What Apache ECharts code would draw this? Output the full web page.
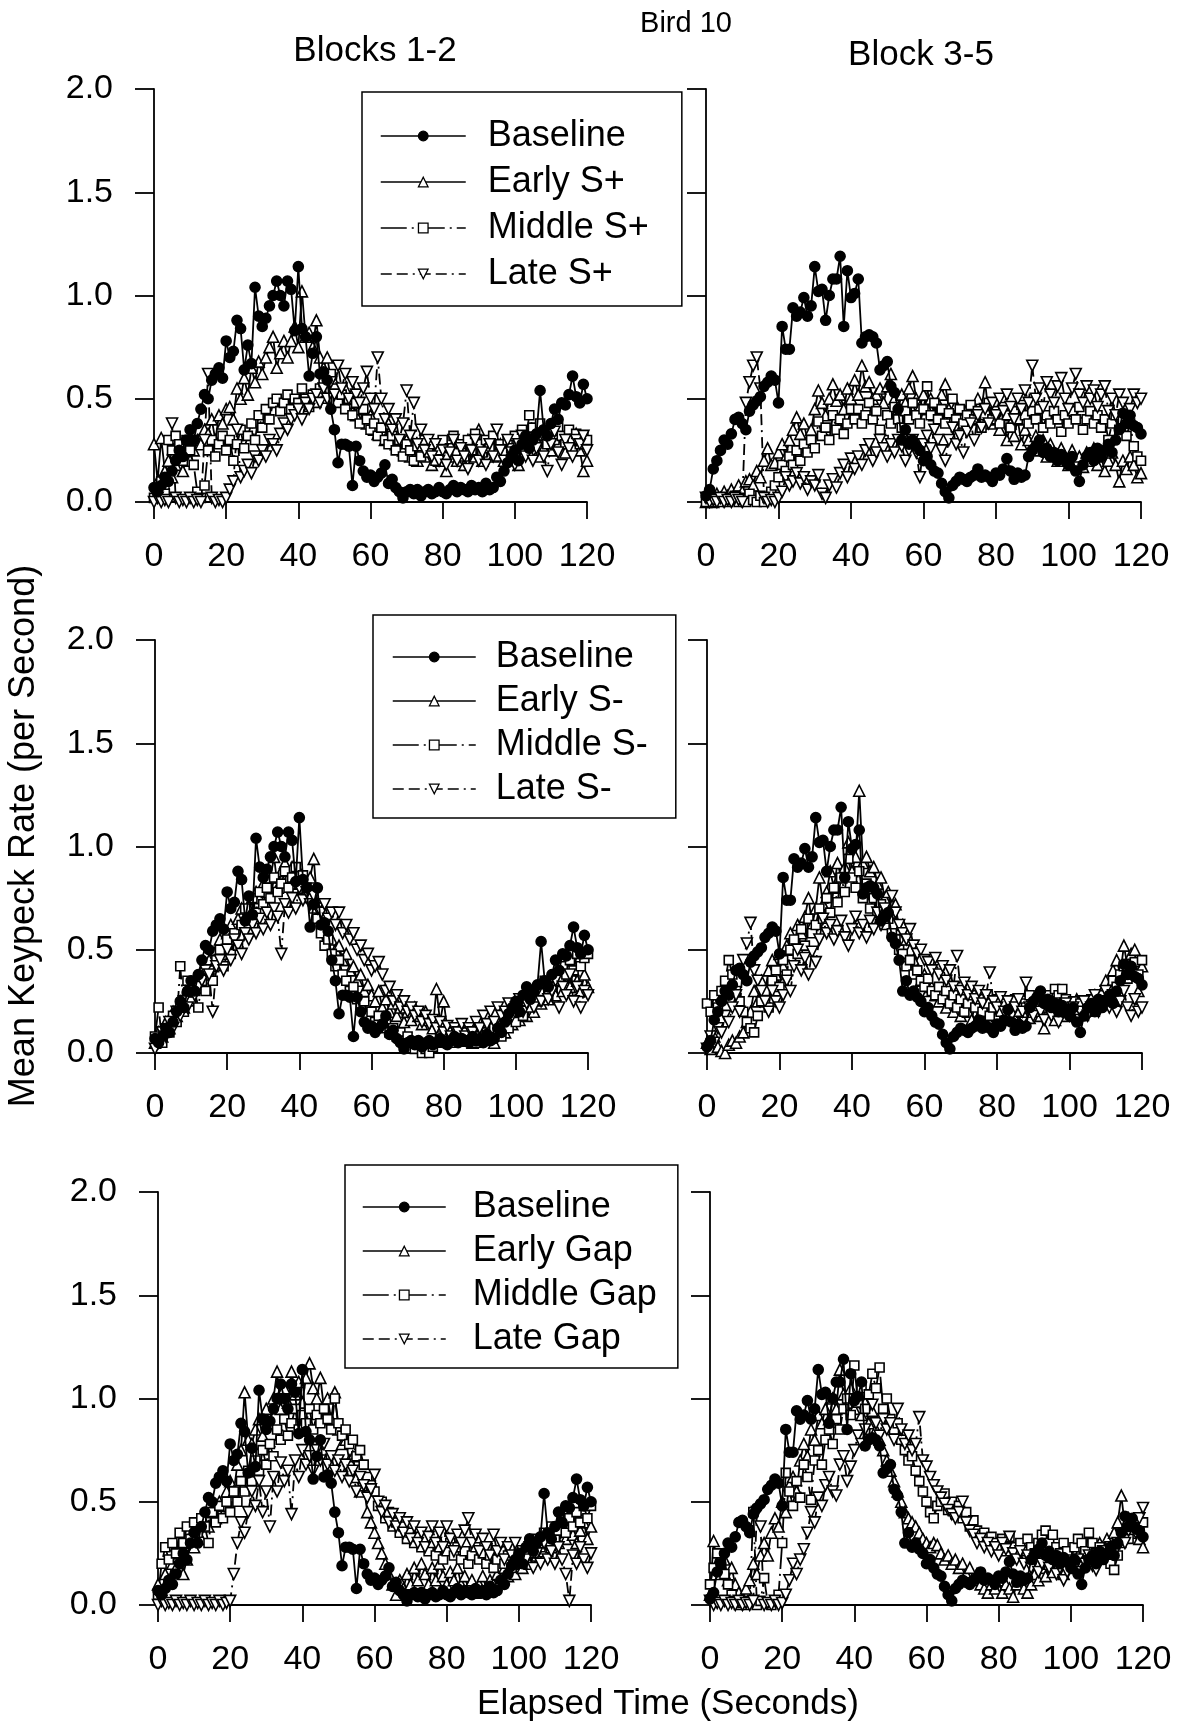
<!DOCTYPE html>
<html><head><meta charset="utf-8">
<script src="https://cdn.jsdelivr.net/npm/echarts@6/dist/echarts.min.js"></script>
<style>html,body{margin:0;padding:0;background:#fff}#c{width:1180px;height:1726px}</style>
</head><body><div id="c"></div>
<script>
// ---- time bins (seconds) ----
const seconds = [0,1,2,3,4,5,6,7,8,9,10,11,12,13,14,15,16,17,18,19,20,21,22,23,24,25,26,27,28,29,30,31,32,33,34,35,36,37,38,39,40,41,42,43,44,45,46,47,48,49,50,51,52,53,54,55,56,57,58,59,60,61,62,63,64,65,66,67,68,69,70,71,72,73,74,75,76,77,78,79,80,81,82,83,84,85,86,87,88,89,90,91,92,93,94,95,96,97,98,99,100,101,102,103,104,105,106,107,108,109,110,111,112,113,114,115,116,117,118,119,120];
const xTicks = [0,20,40,60,80,100,120];
const yTicks = ['0.0','0.5','1.0','1.5','2.0'];

// ---- Blocks 1-2 baseline (same in all left panels) ----
const baselineBlocks12 = [0.07,0.05,0.08,0.12,0.10,0.15,0.20,0.25,0.22,0.30,
0.35,0.30,0.38,0.45,0.52,0.50,0.59,0.62,0.65,0.60,
0.78,0.70,0.73,0.88,0.84,0.64,0.76,0.67,1.04,0.90,
0.85,0.89,0.95,1.00,1.07,1.00,0.95,1.07,1.03,0.83,
1.14,0.84,0.80,0.61,0.72,0.80,0.62,0.63,0.59,0.45,
0.35,0.19,0.28,0.28,0.27,0.08,0.27,0.20,0.15,0.12,
0.13,0.10,0.12,0.14,0.18,0.09,0.11,0.07,0.05,0.02,
0.05,0.06,0.04,0.06,0.03,0.05,0.06,0.04,0.05,0.07,
0.05,0.04,0.06,0.08,0.05,0.07,0.06,0.05,0.08,0.06,
0.07,0.05,0.09,0.06,0.07,0.12,0.10,0.15,0.19,0.22,
0.25,0.20,0.28,0.32,0.26,0.30,0.33,0.54,0.35,0.32,
0.38,0.45,0.40,0.48,0.47,0.52,0.61,0.51,0.48,0.57,
0.50];
// ---- Block 3-5 baseline (same in all right panels) ----
const baselineBlocks35 = [0.03,0.06,0.16,0.20,0.25,0.30,0.28,0.33,0.40,0.41,
0.38,0.35,0.44,0.47,0.49,0.51,0.56,0.58,0.61,0.59,
0.48,0.85,0.74,0.74,0.94,0.90,0.92,0.99,0.90,0.95,
1.14,1.02,1.03,0.88,1.00,1.08,1.08,1.19,0.85,1.12,
0.99,1.01,1.08,0.77,0.80,0.81,0.80,0.77,0.64,0.66,
0.68,0.56,0.53,0.45,0.30,0.35,0.28,0.30,0.27,0.25,
0.20,0.22,0.18,0.15,0.14,0.09,0.05,0.02,0.08,0.10,
0.12,0.11,0.10,0.12,0.13,0.16,0.12,0.13,0.12,0.10,
0.14,0.13,0.16,0.21,0.15,0.11,0.14,0.12,0.13,0.22,
0.25,0.27,0.30,0.24,0.26,0.22,0.24,0.20,0.23,0.21,
0.18,0.22,0.15,0.10,0.18,0.22,0.24,0.20,0.26,0.22,
0.25,0.28,0.24,0.30,0.35,0.43,0.38,0.42,0.37,0.36,
0.33];

// ---- S+ , Blocks 1-2 ----
const earlySPlus12 = [0.28,0.10,0.31,0.15,0.20,0.12,0.18,0.25,0.15,0.22,
0.20,0.25,0.30,0.28,0.35,0.33,0.40,0.30,0.42,0.38,
0.45,0.46,0.40,0.55,0.50,0.60,0.52,0.65,0.58,0.68,
0.62,0.70,0.75,0.80,0.65,0.72,0.78,0.70,0.78,0.85,
0.75,1.02,0.80,0.82,0.75,0.88,0.70,0.65,0.70,0.60,
0.58,0.55,0.52,0.55,0.48,0.50,0.42,0.45,0.40,0.38,
0.42,0.35,0.33,0.35,0.30,0.38,0.32,0.28,0.30,0.25,
0.30,0.22,0.28,0.20,0.25,0.22,0.28,0.18,0.24,0.20,
0.26,0.15,0.22,0.28,0.20,0.24,0.18,0.30,0.25,0.22,
0.35,0.20,0.26,0.30,0.22,0.25,0.28,0.20,0.24,0.30,
0.22,0.18,0.26,0.32,0.24,0.28,0.30,0.22,0.26,0.30,
0.25,0.35,0.28,0.32,0.24,0.30,0.27,0.33,0.25,0.15,
0.20];
const middleSPlus12 = [0.02,0.05,0.10,0.04,0.30,0.25,0.32,0.28,0.20,0.30,
0.25,0.18,0.05,0.02,0.08,0.25,0.30,0.22,0.28,0.32,
0.25,0.30,0.20,0.28,0.35,0.26,0.32,0.38,0.30,0.42,
0.36,0.45,0.40,0.48,0.50,0.44,0.48,0.52,0.45,0.50,
0.48,0.55,0.50,0.46,0.52,0.48,0.55,0.58,0.50,0.62,
0.55,0.48,0.52,0.45,0.50,0.42,0.48,0.38,0.45,0.40,
0.35,0.38,0.32,0.36,0.30,0.28,0.32,0.25,0.30,0.22,
0.28,0.25,0.20,0.27,0.22,0.30,0.24,0.28,0.20,0.25,
0.30,0.22,0.26,0.32,0.24,0.28,0.22,0.30,0.25,0.33,
0.28,0.24,0.30,0.26,0.32,0.22,0.28,0.24,0.30,0.26,
0.32,0.28,0.35,0.30,0.42,0.36,0.30,0.38,0.32,0.28,
0.34,0.30,0.36,0.32,0.28,0.35,0.30,0.33,0.28,0.32,
0.30];
const lateSPlus12 = [0.00,0.02,0.00,0.01,0.00,0.38,0.02,0.00,0.01,0.00,
0.02,0.00,0.01,0.00,0.30,0.62,0.02,0.00,0.01,0.00,
0.02,0.06,0.10,0.35,0.12,0.15,0.18,0.14,0.22,0.20,
0.25,0.22,0.30,0.28,0.25,0.33,0.38,0.35,0.40,0.42,
0.45,0.40,0.48,0.45,0.50,0.52,0.48,0.55,0.50,0.58,
0.52,0.66,0.55,0.62,0.50,0.58,0.52,0.48,0.55,0.63,
0.50,0.45,0.70,0.50,0.40,0.45,0.35,0.40,0.30,0.38,
0.54,0.32,0.48,0.28,0.35,0.25,0.30,0.22,0.28,0.20,
0.25,0.18,0.24,0.30,0.20,0.26,0.22,0.16,0.25,0.30,
0.20,0.24,0.18,0.28,0.22,0.35,0.25,0.20,0.30,0.24,
0.18,0.28,0.32,0.22,0.30,0.20,0.26,0.32,0.22,0.15,
0.28,0.34,0.24,0.18,0.30,0.26,0.22,0.30,0.28,0.32,
0.25];
// ---- S+ , Block 3-5 ----
const earlySPlus35 = [0.00,0.02,0.00,0.04,0.02,0.05,0.03,0.06,0.04,0.08,
0.05,0.10,0.11,0.08,0.15,0.12,0.20,0.26,0.18,0.19,
0.24,0.28,0.22,0.30,0.35,0.41,0.33,0.38,0.30,0.35,
0.45,0.54,0.48,0.42,0.50,0.57,0.49,0.52,0.45,0.55,
0.50,0.59,0.52,0.66,0.56,0.58,0.50,0.52,0.55,0.48,
0.56,0.62,0.50,0.45,0.52,0.48,0.55,0.61,0.50,0.46,
0.52,0.45,0.50,0.42,0.48,0.52,0.57,0.45,0.40,0.47,
0.42,0.38,0.45,0.40,0.43,0.50,0.45,0.58,0.42,0.38,
0.40,0.35,0.42,0.30,0.38,0.32,0.40,0.28,0.35,0.30,
0.26,0.32,0.25,0.30,0.22,0.28,0.24,0.20,0.26,0.22,
0.18,0.25,0.20,0.22,0.17,0.24,0.20,0.26,0.18,0.22,
0.15,0.20,0.24,0.18,0.10,0.20,0.16,0.22,0.18,0.12,
0.14];
const middleSPlus35 = [0.00,0.02,0.00,0.01,0.00,0.02,0.00,0.01,0.03,0.00,
0.02,0.00,0.04,0.01,0.00,0.03,0.00,0.02,0.05,0.08,
0.12,0.18,0.15,0.22,0.18,0.25,0.20,0.28,0.24,0.30,
0.26,0.39,0.32,0.36,0.30,0.42,0.35,0.40,0.33,0.38,
0.45,0.40,0.45,0.38,0.42,0.48,0.40,0.44,0.35,0.30,
0.42,0.38,0.46,0.40,0.36,0.44,0.40,0.48,0.42,0.38,
0.45,0.56,0.42,0.48,0.40,0.45,0.38,0.43,0.50,0.40,
0.45,0.38,0.42,0.47,0.40,0.44,0.36,0.42,0.48,0.40,
0.44,0.38,0.46,0.42,0.36,0.44,0.40,0.47,0.42,0.38,
0.44,0.40,0.45,0.36,0.42,0.38,0.44,0.40,0.34,0.42,
0.38,0.44,0.40,0.46,0.35,0.40,0.44,0.38,0.42,0.36,
0.40,0.30,0.38,0.42,0.35,0.40,0.32,0.38,0.27,0.22,
0.20];
const lateSPlus35 = [0.02,0.00,0.01,0.00,0.02,0.00,0.01,0.00,0.02,0.01,
0.00,0.48,0.58,0.66,0.70,0.55,0.02,0.00,0.01,0.00,
0.02,0.05,0.12,0.08,0.10,0.14,0.09,0.12,0.06,0.10,
0.08,0.13,0.04,0.02,0.08,0.11,0.07,0.14,0.18,0.12,
0.21,0.16,0.22,0.18,0.25,0.28,0.20,0.24,0.30,0.26,
0.22,0.28,0.24,0.30,0.27,0.20,0.25,0.30,0.24,0.12,
0.28,0.32,0.26,0.35,0.30,0.25,0.20,0.30,0.36,0.28,
0.32,0.24,0.34,0.38,0.30,0.42,0.36,0.45,0.38,0.48,
0.42,0.50,0.44,0.52,0.46,0.40,0.50,0.45,0.54,0.48,
0.66,0.50,0.55,0.46,0.58,0.52,0.48,0.56,0.60,0.50,
0.45,0.55,0.62,0.52,0.48,0.56,0.50,0.54,0.46,0.52,
0.56,0.44,0.50,0.42,0.52,0.48,0.40,0.45,0.52,0.48,
0.50];

// ---- S- , Blocks 1-2 ----
const earlySMinus12 = [0.05,0.10,0.08,0.15,0.12,0.20,0.18,0.25,0.22,0.30,
0.28,0.35,0.32,0.40,0.38,0.45,0.42,0.50,0.55,0.48,
0.58,0.62,0.55,0.65,0.70,0.62,0.72,0.68,0.78,0.75,
0.82,0.78,0.85,0.95,0.80,0.88,0.92,0.85,0.90,0.82,
0.88,0.80,0.78,0.85,0.94,0.72,0.68,0.62,0.58,0.55,
0.50,0.52,0.45,0.48,0.40,0.42,0.35,0.38,0.30,0.33,
0.28,0.25,0.30,0.22,0.26,0.20,0.24,0.18,0.22,0.15,
0.20,0.16,0.22,0.18,0.14,0.20,0.16,0.12,0.31,0.15,
0.25,0.12,0.10,0.08,0.12,0.06,0.10,0.08,0.05,0.09,
0.07,0.12,0.08,0.10,0.05,0.12,0.15,0.10,0.18,0.14,
0.20,0.16,0.22,0.18,0.25,0.20,0.28,0.24,0.30,0.26,
0.32,0.28,0.35,0.30,0.38,0.32,0.40,0.35,0.30,0.38,
0.32];
const middleSMinus12 = [0.08,0.22,0.05,0.12,0.10,0.18,0.15,0.42,0.20,0.35,
0.25,0.30,0.22,0.35,0.30,0.40,0.35,0.45,0.50,0.42,
0.55,0.48,0.58,0.52,0.62,0.70,0.60,0.75,0.68,0.78,
0.72,0.80,0.75,0.85,0.78,0.82,0.88,0.80,0.85,0.90,
0.82,0.86,0.80,0.75,0.70,0.65,0.58,0.52,0.55,0.48,
0.42,0.45,0.38,0.35,0.30,0.32,0.26,0.22,0.25,0.18,
0.20,0.15,0.18,0.12,0.15,0.10,0.12,0.08,0.10,0.06,
0.08,0.05,0.02,0.04,0.00,0.02,0.00,0.03,0.05,0.08,
0.06,0.10,0.07,0.05,0.08,0.06,0.10,0.07,0.09,0.05,
0.08,0.06,0.10,0.08,0.12,0.10,0.08,0.15,0.12,0.18,
0.15,0.20,0.18,0.25,0.22,0.28,0.25,0.30,0.35,0.28,
0.32,0.38,0.35,0.42,0.38,0.45,0.40,0.48,0.42,0.46,
0.48];
const lateSMinus12 = [0.02,0.05,0.10,0.08,0.15,0.12,0.20,0.18,0.25,0.22,
0.30,0.28,0.32,0.35,0.40,0.38,0.20,0.42,0.45,0.40,
0.50,0.45,0.55,0.52,0.48,0.58,0.55,0.62,0.58,0.65,
0.60,0.68,0.62,0.70,0.66,0.48,0.72,0.68,0.75,0.70,
0.80,0.74,0.78,0.72,0.76,0.70,0.68,0.72,0.65,0.68,
0.62,0.68,0.58,0.62,0.55,0.58,0.50,0.52,0.45,0.48,
0.40,0.42,0.44,0.38,0.30,0.32,0.25,0.28,0.22,0.25,
0.20,0.22,0.18,0.20,0.15,0.18,0.14,0.16,0.12,0.15,
0.10,0.13,0.08,0.12,0.10,0.14,0.08,0.12,0.10,0.15,
0.12,0.18,0.14,0.20,0.15,0.22,0.18,0.20,0.24,0.18,
0.22,0.26,0.20,0.24,0.28,0.22,0.30,0.25,0.32,0.26,
0.30,0.35,0.22,0.32,0.28,0.38,0.25,0.32,0.22,0.30,
0.28];
// ---- S- , Block 3-5 ----
const earlySMinus35 = [0.05,0.02,0.08,0.03,0.01,0.00,0.04,0.06,0.05,0.08,
0.10,0.15,0.20,0.30,0.25,0.35,0.30,0.40,0.45,0.38,
0.48,0.42,0.52,0.58,0.50,0.62,0.58,0.66,0.75,0.62,
0.70,0.85,0.72,0.78,0.88,0.80,0.92,0.85,0.90,1.02,
0.88,0.95,1.27,0.92,0.95,0.88,0.90,0.82,0.85,0.75,
0.78,0.68,0.72,0.60,0.62,0.55,0.50,0.45,0.40,0.35,
0.38,0.30,0.32,0.28,0.25,0.30,0.22,0.26,0.20,0.24,
0.18,0.22,0.20,0.16,0.24,0.18,0.22,0.15,0.20,0.25,
0.18,0.22,0.16,0.20,0.24,0.18,0.15,0.20,0.22,0.17,
0.20,0.24,0.18,0.12,0.20,0.22,0.16,0.20,0.24,0.18,
0.22,0.20,0.26,0.22,0.20,0.25,0.22,0.28,0.25,0.30,
0.35,0.32,0.40,0.45,0.38,0.52,0.42,0.48,0.50,0.30,
0.42];
const middleSMinus35 = [0.24,0.20,0.28,0.22,0.30,0.35,0.45,0.38,0.30,0.25,
0.20,0.15,0.12,0.10,0.18,0.25,0.30,0.22,0.35,0.40,
0.32,0.45,0.38,0.50,0.55,0.48,0.60,0.52,0.65,0.58,
0.62,0.70,0.65,0.75,0.68,0.80,0.73,0.85,0.78,0.94,
0.85,0.80,0.88,0.75,0.82,0.70,0.75,0.68,0.72,0.62,
0.65,0.58,0.55,0.50,0.48,0.42,0.45,0.38,0.40,0.35,
0.32,0.36,0.30,0.28,0.32,0.26,0.30,0.24,0.28,0.22,
0.26,0.20,0.24,0.28,0.22,0.26,0.20,0.24,0.18,0.22,
0.26,0.20,0.24,0.18,0.22,0.26,0.20,0.24,0.22,0.28,
0.22,0.20,0.25,0.22,0.28,0.25,0.31,0.28,0.31,0.26,
0.22,0.25,0.20,0.24,0.18,0.22,0.26,0.20,0.24,0.28,
0.25,0.30,0.35,0.32,0.38,0.42,0.36,0.40,0.44,0.38,
0.45];
const lateSMinus35 = [0.02,0.08,0.05,0.12,0.10,0.18,0.15,0.22,0.28,0.20,
0.45,0.53,0.63,0.40,0.35,0.30,0.25,0.20,0.30,0.25,
0.22,0.28,0.35,0.30,0.42,0.50,0.40,0.46,0.38,0.49,
0.44,0.55,0.65,0.58,0.62,0.55,0.59,0.64,0.56,0.52,
0.60,0.66,0.58,0.62,0.56,0.64,0.60,0.68,0.62,0.70,
0.66,0.76,0.68,0.62,0.58,0.55,0.60,0.52,0.48,0.50,
0.45,0.44,0.40,0.46,0.38,0.42,0.35,0.40,0.32,0.47,
0.30,0.34,0.28,0.32,0.26,0.30,0.24,0.28,0.39,0.25,
0.22,0.27,0.20,0.25,0.18,0.22,0.26,0.20,0.34,0.22,
0.18,0.24,0.20,0.16,0.22,0.18,0.24,0.15,0.20,0.24,
0.18,0.22,0.16,0.20,0.25,0.18,0.22,0.28,0.20,0.25,
0.30,0.22,0.28,0.20,0.25,0.30,0.22,0.18,0.26,0.20,
0.22];

// ---- Gap , Blocks 1-2 ----
const earlyGap12 = [0.10,0.05,0.15,0.12,0.20,0.18,0.25,0.15,0.22,0.30,
0.28,0.35,0.32,0.40,0.38,0.45,0.42,0.50,0.48,0.55,
0.60,0.55,0.68,0.75,1.03,0.80,0.78,0.85,0.90,0.82,
0.95,0.88,1.00,1.13,0.95,1.05,0.98,1.13,1.02,1.08,
0.98,1.10,1.17,1.05,1.00,1.10,0.95,1.00,0.90,1.03,
0.85,0.78,0.80,0.70,0.72,0.62,0.55,0.58,0.45,0.40,
0.35,0.30,0.25,0.20,0.15,0.10,0.05,0.12,0.08,0.15,
0.10,0.18,0.12,0.20,0.15,0.10,0.18,0.12,0.20,0.14,
0.10,0.16,0.12,0.18,0.10,0.14,0.08,0.12,0.06,0.10,
0.14,0.08,0.12,0.10,0.15,0.12,0.18,0.14,0.20,0.15,
0.22,0.18,0.25,0.20,0.28,0.24,0.30,0.26,0.32,0.28,
0.35,0.30,0.36,0.32,0.38,0.34,0.30,0.36,0.40,0.32,
0.38];
const middleGap12 = [0.05,0.20,0.28,0.22,0.30,0.25,0.35,0.30,0.38,0.32,
0.40,0.35,0.42,0.38,0.30,0.45,0.40,0.48,0.42,0.50,
0.45,0.55,0.50,0.60,0.55,0.65,0.60,0.70,0.65,0.75,
0.68,0.78,0.72,0.85,0.80,0.90,0.82,0.88,0.95,0.85,
0.92,0.88,0.95,0.85,0.92,0.88,0.95,0.90,0.85,1.00,
0.88,0.82,0.85,0.78,0.80,0.72,0.75,0.68,0.62,0.58,
0.55,0.48,0.50,0.42,0.45,0.38,0.40,0.35,0.38,0.32,
0.35,0.30,0.33,0.28,0.32,0.26,0.30,0.24,0.28,0.22,
0.26,0.30,0.24,0.28,0.22,0.26,0.20,0.24,0.28,0.22,
0.25,0.20,0.24,0.18,0.22,0.26,0.20,0.24,0.18,0.22,
0.26,0.20,0.24,0.30,0.25,0.32,0.28,0.35,0.30,0.38,
0.32,0.36,0.40,0.35,0.42,0.38,0.45,0.40,0.48,0.42,
0.48];
const lateGap12 = [0.00,0.02,0.00,0.01,0.00,0.02,0.00,0.01,0.00,0.02,
0.00,0.01,0.00,0.02,0.00,0.01,0.00,0.02,0.00,0.01,
0.02,0.15,0.30,0.40,0.35,0.45,0.55,0.48,0.60,0.45,
0.55,0.38,0.62,0.55,0.69,0.60,0.65,0.44,0.70,0.62,
0.75,0.68,0.72,0.65,0.75,0.70,0.78,0.68,0.72,0.65,
0.70,0.62,0.68,0.60,0.65,0.55,0.62,0.58,0.52,0.56,
0.63,0.50,0.45,0.48,0.40,0.44,0.38,0.42,0.35,0.40,
0.32,0.38,0.30,0.35,0.28,0.33,0.38,0.30,0.35,0.28,
0.38,0.32,0.26,0.34,0.30,0.36,0.42,0.30,0.34,0.26,
0.32,0.28,0.24,0.34,0.26,0.30,0.22,0.28,0.24,0.30,
0.20,0.26,0.22,0.28,0.18,0.25,0.20,0.30,0.22,0.26,
0.20,0.28,0.22,0.15,0.02,0.24,0.20,0.28,0.22,0.18,
0.25];
// ---- Gap , Block 3-5 ----
const earlyGap35 = [0.05,0.31,0.20,0.15,0.22,0.12,0.18,0.10,0.06,0.03,
0.08,0.12,0.20,0.15,0.24,0.30,0.24,0.35,0.42,0.38,
0.50,0.45,0.58,0.62,0.55,0.70,0.78,0.72,0.85,0.80,
0.92,0.88,0.95,0.90,1.00,0.95,1.14,1.02,0.98,1.05,
0.95,1.00,0.92,0.98,0.88,0.94,0.85,0.80,0.75,0.70,
0.65,0.60,0.55,0.50,0.45,0.42,0.40,0.38,0.35,0.32,
0.30,0.28,0.30,0.29,0.25,0.22,0.24,0.20,0.22,0.18,
0.20,0.15,0.18,0.12,0.15,0.10,0.08,0.06,0.10,0.08,
0.12,0.06,0.10,0.08,0.04,0.10,0.12,0.08,0.06,0.10,
0.15,0.12,0.18,0.14,0.20,0.16,0.22,0.18,0.15,0.20,
0.22,0.18,0.24,0.20,0.26,0.22,0.28,0.24,0.30,0.26,
0.32,0.28,0.35,0.40,0.53,0.38,0.42,0.35,0.40,0.32,
0.28];
const middleGap35 = [0.10,0.18,0.25,0.20,0.15,0.10,0.05,0.02,0.00,0.01,
0.00,0.02,0.45,0.00,0.02,0.13,0.01,0.00,0.02,0.05,
0.30,0.64,0.55,0.48,0.60,0.52,0.68,0.62,0.51,0.70,
0.75,0.68,0.80,0.85,0.78,0.90,0.85,0.95,1.00,0.92,
1.16,0.98,1.05,0.95,1.02,1.12,1.05,1.15,0.95,1.00,
0.90,0.85,0.88,0.80,0.75,0.70,0.72,0.65,0.60,0.55,
0.50,0.45,0.42,0.48,0.50,0.54,0.46,0.50,0.44,0.48,
0.42,0.45,0.38,0.41,0.36,0.32,0.35,0.30,0.33,0.30,
0.28,0.32,0.26,0.33,0.28,0.24,0.30,0.26,0.32,0.28,
0.25,0.30,0.34,0.36,0.30,0.34,0.28,0.25,0.30,0.26,
0.22,0.28,0.32,0.30,0.26,0.35,0.30,0.25,0.28,0.22,
0.25,0.20,0.17,0.24,0.30,0.35,0.32,0.38,0.42,0.36,
0.40];
const lateGap35 = [0.02,0.00,0.01,0.00,0.02,0.00,0.01,0.00,0.02,0.00,
0.01,0.00,0.02,0.45,0.38,0.00,0.01,0.00,0.02,0.00,
0.01,0.05,0.12,0.20,0.15,0.22,0.27,0.35,0.45,0.40,
0.52,0.48,0.58,0.62,0.55,0.53,0.68,0.72,0.60,0.67,
0.75,0.82,0.78,0.85,0.80,0.97,0.88,0.82,0.90,0.85,
0.88,0.80,0.95,0.85,0.78,0.82,0.75,0.78,0.91,0.70,
0.67,0.62,0.58,0.55,0.52,0.49,0.46,0.44,0.42,0.45,
0.50,0.40,0.36,0.34,0.30,0.32,0.28,0.30,0.26,0.28,
0.24,0.30,0.27,0.33,0.25,0.22,0.26,0.20,0.24,0.18,
0.22,0.16,0.20,0.24,0.18,0.22,0.15,0.18,0.12,0.16,
0.20,0.18,0.22,0.16,0.20,0.24,0.19,0.17,0.22,0.26,
0.24,0.28,0.25,0.30,0.34,0.30,0.36,0.40,0.35,0.42,
0.47];

const namesSPlus = ['Baseline','Early S+','Middle S+','Late S+'];
const namesSMinus = ['Baseline','Early S-','Middle S-','Late S-'];
const namesGap = ['Baseline','Early Gap','Middle Gap','Late Gap'];

// ---- layout / style ----
const FONT = '"Liberation Sans", Arial, Helvetica, sans-serif';
const grids = [
  {left:154, top:89, width:433, height:413},
  {left:706, top:89, width:435, height:413},
  {left:155, top:640, width:433, height:413},
  {left:707, top:640, width:435, height:413},
  {left:158, top:1192, width:433, height:413},
  {left:710, top:1192, width:433, height:413}
];
const panels = [
  {names: namesSPlus,  data: [baselineBlocks12, earlySPlus12, middleSPlus12, lateSPlus12]},
  {names: namesSPlus,  data: [baselineBlocks35, earlySPlus35, middleSPlus35, lateSPlus35]},
  {names: namesSMinus, data: [baselineBlocks12, earlySMinus12, middleSMinus12, lateSMinus12]},
  {names: namesSMinus, data: [baselineBlocks35, earlySMinus35, middleSMinus35, lateSMinus35]},
  {names: namesGap,    data: [baselineBlocks12, earlyGap12, middleGap12, lateGap12]},
  {names: namesGap,    data: [baselineBlocks35, earlyGap35, middleGap35, lateGap35]}
];
const SYMBOL = ['circle','triangle','rect','triangle'];
const ROTATE = [0,0,0,180];
const SIZE = [10,11,9,11];
const FILL = ['#000','#fff','#fff','#fff'];
const DASH = ['solid','solid',[26,5,2,5],[11,5,11,5,2,5]];

const series = [];
panels.forEach((p, gi) => {
  p.data.forEach((vals, k) => {
    series.push({
      type:'line', name:p.names[k], xAxisIndex:gi, yAxisIndex:gi,
      data: seconds.map((s, i) => [s, vals[i]]),
      symbol:SYMBOL[k], symbolRotate:ROTATE[k], symbolSize:SIZE[k],
      showSymbol:true, showAllSymbol:true, animation:false, silent:true,
      lineStyle:{color:'#000', width:1.8, type:DASH[k]},
      itemStyle:{color:FILL[k], borderColor:'#000', borderWidth:1.6},
      z: k === 0 ? 4 : 3,
      emphasis:{disabled:true}
    });
  });
});

const axisLineStyle = {color:'#000', width:1.8};
const xAxes = grids.map((g, i) => ({
  gridIndex:i, type:'value', min:0, max:120, interval:20,
  axisLine:{show:true, onZero:false, lineStyle:axisLineStyle},
  axisTick:{show:true, inside:false, length:17, lineStyle:axisLineStyle},
  axisLabel:{show:true, fontSize:34, color:'#000', margin:38, fontFamily:FONT, hideOverlap:false,
    formatter: v => (xTicks.indexOf(v) >= 0 ? String(v) : '')},
  splitLine:{show:false}
}));
const yAxes = grids.map((g, i) => ({
  gridIndex:i, type:'value', min:0, max:2, interval:0.5,
  axisLine:{show:true, onZero:false, lineStyle:axisLineStyle},
  axisTick:{show:true, inside:false, length:19, lineStyle:axisLineStyle},
  axisLabel:{show: i % 2 === 0, fontSize:34, color:'#000', margin:41, fontFamily:FONT, hideOverlap:false,
    formatter: v => yTicks[Math.round(v / 0.5)]},
  splitLine:{show:false}
}));

function legendCfg(names, left, top, itemWidth, gap, padding, textPad) {
  return {
    data: names, orient:'vertical', left:left, top:top,
    itemWidth:itemWidth, itemHeight:12, itemGap:gap, padding:padding,
    borderColor:'#000', borderWidth:1.5, backgroundColor:'#fff',
    selectedMode:false, align:'left',
    lineStyle:{width:1.5},
    itemStyle:{borderWidth:1.3},
    textStyle:{fontSize:36, color:'#000', fontFamily:FONT, padding:[0,0,0,textPad]}
  };
}

const option = {
  backgroundColor:'#fff',
  animation:false,
  grid: grids.map(g => Object.assign({outerBoundsMode:'none', containLabel:false}, g)),
  xAxis: xAxes,
  yAxis: yAxes,
  legend: [
    legendCfg(namesSPlus, 362, 92, 85, 10, [26,33,14,18], 17),
    legendCfg(namesSMinus, 373, 615, 83, 8, [24,28,11,19], 15),
    legendCfg(namesGap, 345, 1165, 83, 8, [24,21,11,17], 22)
  ],
  graphic: [
    {type:'text', x:686, y:24, style:{text:'Bird 10', font:'29px ' + FONT, fill:'#000', align:'center', verticalAlign:'middle'}},
    {type:'text', x:375, y:51, style:{text:'Blocks 1-2', font:'35px ' + FONT, fill:'#000', align:'center', verticalAlign:'middle'}},
    {type:'text', x:921, y:55, style:{text:'Block 3-5', font:'35px ' + FONT, fill:'#000', align:'center', verticalAlign:'middle'}},
    {type:'text', x:668, y:1704, style:{text:'Elapsed Time (Seconds)', font:'35px ' + FONT, fill:'#000', align:'center', verticalAlign:'middle'}},
    {type:'text', x:24, y:836, rotation:Math.PI / 2, style:{text:'Mean Keypeck Rate (per Second)', font:'36px ' + FONT, fill:'#000', align:'center', verticalAlign:'middle'}}
  ],
  series: series
};

const chart = echarts.init(document.getElementById('c'), null, {renderer:'canvas', width:1180, height:1726});
chart.setOption(option);
</script>
</body></html>
